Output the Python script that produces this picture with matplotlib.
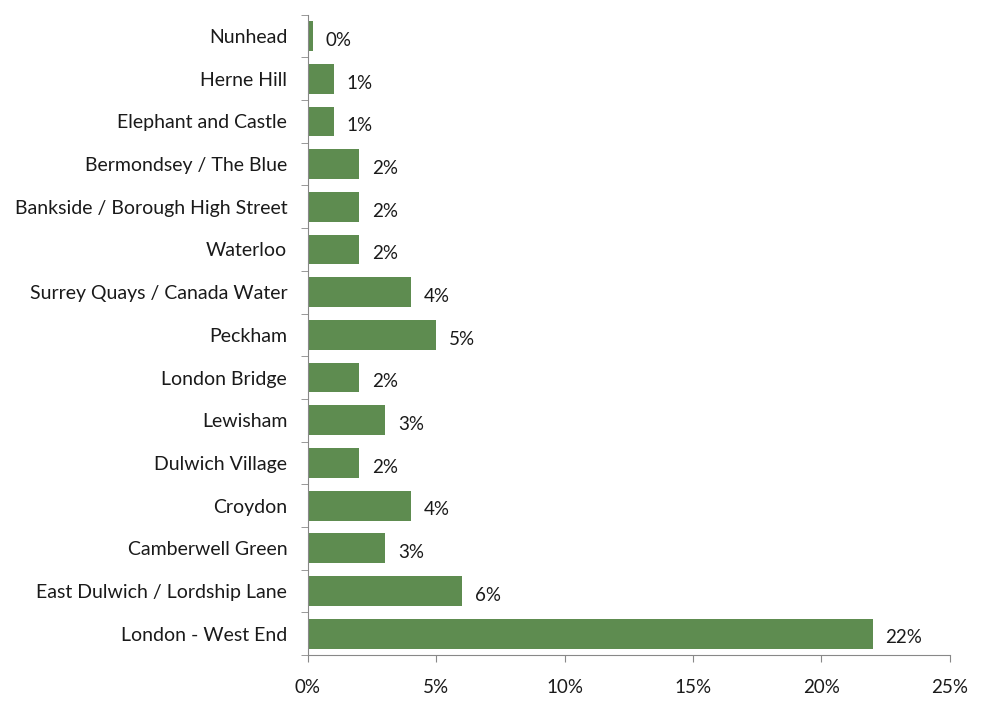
import matplotlib.pyplot as plt
import numpy as np
from matplotlib.ticker import FixedLocator, PercentFormatter

# data, top to bottom as in the picture
areas = ["Nunhead", "Herne Hill", "Elephant and Castle", "Bermondsey / The Blue",
         "Bankside / Borough High Street", "Waterloo", "Surrey Quays / Canada Water",
         "Peckham", "London Bridge", "Lewisham", "Dulwich Village", "Croydon",
         "Camberwell Green", "East Dulwich / Lordship Lane", "London - West End"]
share = [0.2, 1, 1, 2, 2, 2, 4, 5, 2, 3, 2, 4, 3, 6, 22]
labels = ["0%", "1%", "1%", "2%", "2%", "2%", "4%", "5%", "2%", "3%", "2%", "4%", "3%", "6%", "22%"]

plt.rcParams['font.family'] = ['Lato', 'DejaVu Sans']

fig = plt.figure(figsize=(9.84, 7.02), dpi=100)
ax = fig.add_axes([0.313, 0.067, 0.652, 0.912])

y = np.arange(len(areas))
ax.barh(y, share, height=0.7, color='#5E8C50')
for yi, v, lab in zip(y, share, labels):
    ax.text(v + 0.5, yi + 0.1, lab, va='center', ha='left', fontsize=13.5, color='#1a1a1a')

ax.set_ylim(len(areas) - 0.5, -0.5)
ax.set_xlim(0, 25)
ax.set_yticks(y)
ax.set_yticklabels(areas, fontsize=14, color='#1a1a1a')
ax.yaxis.set_minor_locator(FixedLocator(np.arange(-0.5, len(areas), 1)))
ax.tick_params(axis='y', which='major', length=0, pad=15)
ax.tick_params(axis='y', which='minor', length=5, color='#888888')
ax.set_xticks(np.arange(0, 26, 5))
ax.xaxis.set_major_formatter(PercentFormatter(decimals=0))
ax.tick_params(axis='x', length=5, color='#888888', labelsize=13.5, labelcolor='#1a1a1a', pad=12)

for s in ['top', 'right']:
    ax.spines[s].set_visible(False)
for s in ['left', 'bottom']:
    ax.spines[s].set_color('#888888')

fig.savefig('out.png', dpi=100)
